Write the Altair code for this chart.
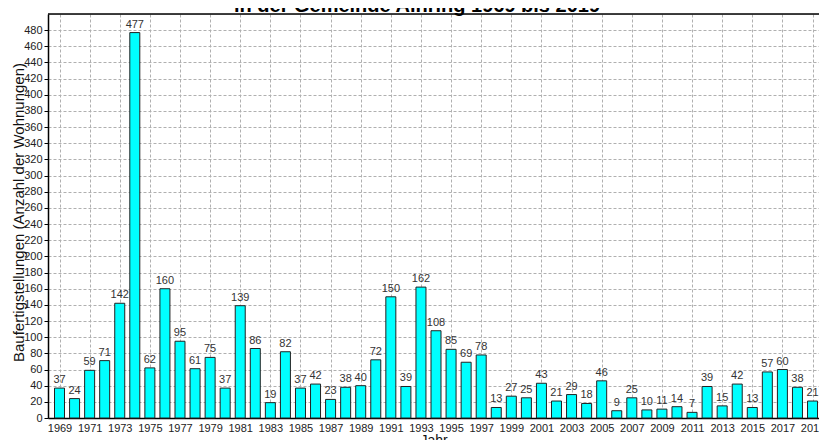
import altair as alt
import pandas as pd

years = list(range(1969, 2020))
values = [37, 24, 59, 71, 142, 477, 62, 160, 95, 61,
          75, 37, 139, 86, 19, 82, 37, 42, 23, 38,
          40, 72, 150, 39, 162, 108, 85, 69, 78, 13,
          27, 25, 43, 21, 29, 18, 46, 9, 25, 10,
          11, 14, 7, 39, 15, 42, 13, 57, 60, 38,
          21]
x_ticks = list(range(1969, 2020, 2))
y_ticks = list(range(0, 481, 20))
title_text = "in der Gemeinde Ainring 1969 bis 2019"
y_title = "Baufertigstellungen (Anzahl der Wohnungen)"
x_title = "Jahr"

df = pd.DataFrame({"Jahr": years, "Wert": values})

PAD_L, PAD_T, PAD_R, PAD_B = 40, 6, 0, 22
W = 811 - PAD_L - PAD_R
H = 432 - PAD_T - PAD_B
FONT = "Liberation Sans"

x_scale = alt.Scale(domain=[1968.236, 2019.43], nice=False, zero=False, padding=0)
y_scale = alt.Scale(domain=[0, 500], nice=False, padding=0)

x_axis = alt.Axis(values=x_ticks, format="d", title=x_title, grid=True,
                  gridDash=[3, 2], gridColor="#b0b0b0", gridWidth=1,
                  domainColor="#000000", domainWidth=1.5,
                  ticks=False, labelPadding=4, labelFontSize=11,
                  labelColor="#222222", labelFont=FONT,
                  labelOverlap=False, labelBound=False, labelFlush=False,
                  titleFont=FONT, titleFontSize=14, titleFontWeight="normal",
                  titleColor="#111111", titlePadding=0)
y_axis = alt.Axis(values=y_ticks, title=y_title, grid=True,
                  gridDash=[3, 2], gridColor="#b0b0b0", gridWidth=1,
                  domainColor="#000000", domainWidth=1.5,
                  tickColor="#000000", tickSize=4, labelPadding=2,
                  labelFontSize=11, labelColor="#222222", labelFont=FONT,
                  labelOverlap=False, labelBound=False,
                  titleFont=FONT, titleFontSize=15, titleFontWeight="normal",
                  titleColor="#111111", titleX=-22, titleY=H / 2 - 4,
                  titleBaseline="bottom", titleAngle=270)

base = alt.Chart(df)

bars = base.mark_bar(size=10, color="#00FFFF", stroke="#222222", strokeWidth=1).encode(
    x=alt.X("Jahr:Q", scale=x_scale, axis=x_axis),
    y=alt.Y("Wert:Q", scale=y_scale, axis=y_axis),
)

labels = base.mark_text(baseline="bottom", dy=-3, fontSize=11, font=FONT, color="#333333").encode(
    x=alt.X("Jahr:Q", scale=x_scale, axis=x_axis),
    y=alt.Y("Wert:Q", scale=y_scale, axis=y_axis),
    text=alt.Text("Wert:Q"),
)

top_line = alt.Chart(pd.DataFrame({"a": [0]})).mark_rule(color="#000000", strokeWidth=1.5).encode(
    x=alt.value(0), x2=alt.value(W), y=alt.value(0)
)

title = alt.Chart(pd.DataFrame({"t": [title_text]})).mark_text(
    fontSize=20, fontWeight="bold", font=FONT, align="center", baseline="alphabetic", color="#000000"
).encode(text="t:N", x=alt.value(369), y=alt.value(-2))

chart = alt.layer(bars, labels, top_line, title).properties(
    width=W, height=H,
    autosize=alt.AutoSizeParams(type="none"),
    padding={"left": PAD_L, "top": PAD_T, "right": PAD_R, "bottom": PAD_B},
).configure_view(stroke="transparent", strokeWidth=0).configure_axis(
    labelOverlap=False
).configure(background="#ffffff")

chart.save("out.html", embed_options={"renderer": "svg", "actions": False})
